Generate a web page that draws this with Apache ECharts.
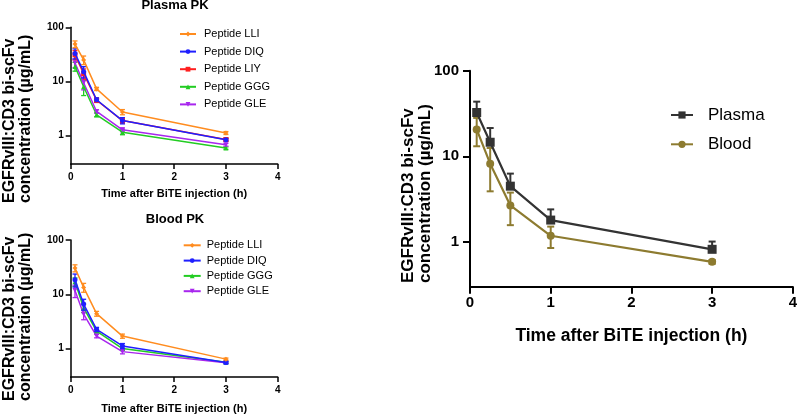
<!DOCTYPE html>
<html>
<head>
<meta charset="utf-8">
<script src="https://cdn.jsdelivr.net/npm/echarts@6/dist/echarts.min.js"></script>
<style>html,body{margin:0;padding:0;background:#fff}#c{width:800px;height:415px}</style>
</head>
<body>
<div id="c"></div>
<script>
// ---------- data ----------
const times = [0.083, 0.25, 0.5, 1, 3];
const xTicks = [0, 1, 2, 3, 4];
const yTicks = [1, 10, 100];

const peptideNames = ['Peptide LLI', 'Peptide DIQ', 'Peptide LIY', 'Peptide GGG', 'Peptide GLE'];
const bloodPeptideNames = ['Peptide LLI', 'Peptide DIQ', 'Peptide GGG', 'Peptide GLE'];

// Plasma PK (top-left): means and SD
const plasmaLLI = [49, 25, 7.3, 2.73, 1.12];
const plasmaLLIsd = [7, 4.5, 0.5, 0.3, 0.07];
const plasmaDIQ = [33, 15.2, 4.6, 1.9, 0.84];
const plasmaDIQsd = [7, 3.6, 0.4, 0.25, 0.05];
const plasmaLIY = [31, 14, 4.5, 1.9, 0.85];
const plasmaLIYsd = [6, 3, 0.4, 0.2, 0.05];
const plasmaGGG = [19, 8, 2.43, 1.16, 0.59];
const plasmaGGGsd = [3.5, 2.5, 0.2, 0.12, 0.03];
const plasmaGLE = [22, 9.5, 2.8, 1.28, 0.68];
const plasmaGLEsd = [4, 2.5, 0.2, 0.1, 0.04];

// Blood PK (bottom-left)
const bloodLLI = [30.4, 13.4, 4.4, 1.7, 0.64];
const bloodLLIsd = [4.5, 2.5, 0.45, 0.15, 0.03];
const bloodDIQ = [18.6, 6.6, 2.26, 1.12, 0.555];
const bloodDIQsd = [5, 1.5, 0.2, 0.12, 0.03];
const bloodGGG = [17, 5.6, 2.1, 1.0, 0.56];
const bloodGGGsd = [3, 1, 0.15, 0.08, 0.02];
const bloodGLE = [11.7, 4.3, 1.7, 0.88, 0.55];
const bloodGLEsd = [3, 0.9, 0.12, 0.08, 0.02];

// Right: Plasma vs Blood
const sumNames = ['Plasma', 'Blood'];
const sumPlasma = [32.5, 14.6, 4.48, 1.8, 0.82];
const sumPlasmaSd = [11, 6.8, 1.8, 0.6, 0.19];
const sumBlood = [20.6, 8.2, 2.67, 1.18, 0.585];
const sumBloodSd = [7.5, 4.3, 1.1, 0.33, 0.03];

const xName = 'Time after BiTE injection (h)';
const yName1 = 'EGFRvIII:CD3 bi-scFv';
const yName2 = 'concentration (µg/mL)';
const titlePlasma = 'Plasma PK';
const titleBlood = 'Blood PK';

// ---------- styles ----------
const FONT = '"Liberation Sans", Arial, Helvetica, sans-serif';
const colors = {
  'Peptide LLI': '#ff8c1f', 'Peptide DIQ': '#1f1fff', 'Peptide LIY': '#ff1f1f',
  'Peptide GGG': '#22cc22', 'Peptide GLE': '#a826ee',
  'Plasma': '#333333', 'Blood': '#8d7b30'
};
const symbols = {
  'Peptide LLI': 'diamond', 'Peptide DIQ': 'circle', 'Peptide LIY': 'rect',
  'Peptide GGG': 'triangle', 'Peptide GLE': 'triangle',
  'Plasma': 'rect', 'Blood': 'circle'
};
const symRot = { 'Peptide GLE': 180 };
const zOrder = { 'Peptide LLI': 5, 'Peptide DIQ': 4, 'Peptide LIY': 3, 'Peptide GGG': 2, 'Peptide GLE': 2 };

const series = [];
function addSeries(name, means, sds, gi, opts) {
  const col = colors[name];
  series.push({
    type: 'line', name: name, xAxisIndex: gi, yAxisIndex: gi,
    data: times.map((t, i) => [t, means[i]]),
    symbol: symbols[name], symbolRotate: symRot[name] || 0, symbolSize: opts.sym,
    lineStyle: { color: col, width: opts.lw }, itemStyle: { color: col },
    z: (zOrder[name] || 3) + 1, animation: false, silent: true
  });
  series.push({
    type: 'custom', name: name + ' err', xAxisIndex: gi, yAxisIndex: gi,
    data: times.map((t, i) => [t, opts.upOnly ? means[i] : means[i] - sds[i], means[i] + sds[i], means[i]]),
    encode: { x: 0, y: [1, 2] },
    z: (zOrder[name] || 3), animation: false, silent: true, clip: false,
    renderItem: function (params, api) {
      const x = api.value(0), lo = api.value(1), hi = api.value(2), m = api.value(3);
      const pLo = api.coord([x, lo]), pHi = api.coord([x, hi]);
      const hw = opts.cap / 2;
      const st = { stroke: col, lineWidth: opts.elw, fill: null };
      const ch = [
        { type: 'line', shape: { x1: pLo[0], y1: pLo[1], x2: pHi[0], y2: pHi[1] }, style: st },
        { type: 'line', shape: { x1: pHi[0] - hw, y1: pHi[1], x2: pHi[0] + hw, y2: pHi[1] }, style: st }
      ];
      if (lo < m) ch.push({ type: 'line', shape: { x1: pLo[0] - hw, y1: pLo[1], x2: pLo[0] + hw, y2: pLo[1] }, style: st });
      return { type: 'group', children: ch };
    }
  });
}
const small = { lw: 1.5, elw: 1.3, sym: 5, cap: 5 };
addSeries('Peptide LLI', plasmaLLI, plasmaLLIsd, 0, small);
addSeries('Peptide DIQ', plasmaDIQ, plasmaDIQsd, 0, small);
addSeries('Peptide LIY', plasmaLIY, plasmaLIYsd, 0, small);
addSeries('Peptide GGG', plasmaGGG, plasmaGGGsd, 0, small);
addSeries('Peptide GLE', plasmaGLE, plasmaGLEsd, 0, small);
addSeries('Peptide LLI', bloodLLI, bloodLLIsd, 1, small);
addSeries('Peptide DIQ', bloodDIQ, bloodDIQsd, 1, small);
addSeries('Peptide GGG', bloodGGG, bloodGGGsd, 1, small);
addSeries('Peptide GLE', bloodGLE, bloodGLEsd, 1, small);
addSeries('Plasma', sumPlasma, sumPlasmaSd, 2, { lw: 2.2, elw: 2, sym: 9, cap: 7, upOnly: true });
addSeries('Blood', sumBlood, sumBloodSd, 2, { lw: 2.2, elw: 2, sym: 8, cap: 7 });

function xAx(gi, lw, fs, tl, margin, nfs, ngap) {
  return {
    type: 'value', gridIndex: gi, min: 0, max: 4, interval: 1,
    axisLine: { show: true, onZero: false, lineStyle: { color: '#000', width: lw } },
    axisTick: { show: true, length: tl, lineStyle: { color: '#000', width: lw } },
    axisLabel: { color: '#000', fontFamily: FONT, fontWeight: 'bold', fontSize: fs, margin: margin },
    splitLine: { show: false },
    name: xName, nameLocation: 'middle', nameGap: ngap,
    nameTextStyle: { color: '#000', fontFamily: FONT, fontWeight: 'bold', fontSize: nfs }
  };
}
function yAx(gi, lw, fs, tl, margin) {
  return {
    type: 'log', logBase: 10, gridIndex: gi, min: 0.3, max: 100,
    axisLine: { show: true, onZero: false, lineStyle: { color: '#000', width: lw } },
    axisTick: { show: true, length: tl, lineStyle: { color: '#000', width: lw }, customValues: yTicks },
    axisLabel: { color: '#000', fontFamily: FONT, fontWeight: 'bold', fontSize: fs, margin: margin, customValues: yTicks },
    minorTick: { show: false }, splitLine: { show: false }
  };
}

function vtext(x, y, txt, fs) {
  return { type: 'text', x: x, y: y, rotation: Math.PI / 2, silent: true,
    style: { text: txt, fill: '#000', font: 'bold ' + fs + 'px ' + FONT, align: 'left', verticalAlign: 'middle', textAlign: 'left', textVerticalAlign: 'middle' } };
}
function htext(x, y, txt, fs) {
  return { type: 'text', x: x, y: y, silent: true,
    style: { text: txt, fill: '#000', font: 'bold ' + fs + 'px ' + FONT, align: 'center', verticalAlign: 'middle', textAlign: 'center', textVerticalAlign: 'middle' } };
}

function legend(names, left, top, iw, ih, fs, lh, gap, pad) {
  return {
    data: names, orient: 'vertical', left: left, top: top, itemWidth: iw, itemHeight: ih,
    itemGap: gap, selectedMode: false, padding: 0,
    textStyle: { color: '#000', fontFamily: FONT, fontSize: fs, lineHeight: lh, padding: [0, 0, 0, pad] }
  };
}

const option = {
  animation: false,
  grid: [
    { left: 70.7, top: 27.3, width: 207, height: 136.7 },
    { left: 70.7, top: 240, width: 207, height: 137.3 },
    { left: 470, top: 70.7, width: 326.7, height: 216 }
  ],
  xAxis: [xAx(0, 1.5, 10, 5, 8, 11, 24.5), xAx(1, 1.5, 10, 5, 8, 11, 26), xAx(2, 2, 15, 7, 9, 17.5, 40)],
  yAxis: [yAx(0, 1.5, 10, 5, 7), yAx(1, 1.5, 10, 5, 7), yAx(2, 2, 15, 7, 11)],
  legend: [
    legend(peptideNames, 179, 27, 16, 6, 11, 14, 3.6, 3),
    legend(bloodPeptideNames, 182.7, 238.3, 17, 6, 11, 14, 1.3, 1),
    legend(sumNames, 670, 105, 22, 9, 17, 20, 9.3, 10)
  ],
  graphic: [
    htext(175, 5, titlePlasma, 13),
    htext(175, 219, titleBlood, 13),
    vtext(10, 203, yName1, 16), vtext(26, 203, yName2, 16),
    vtext(10, 401, yName1, 16), vtext(26, 401, yName2, 16),
    vtext(408.5, 283, yName1, 17), vtext(425, 283, yName2, 17)
  ],
  series: series
};
const chart = echarts.init(document.getElementById('c'), null, { renderer: 'canvas' });
chart.setOption(option);
</script>
</body>
</html>
